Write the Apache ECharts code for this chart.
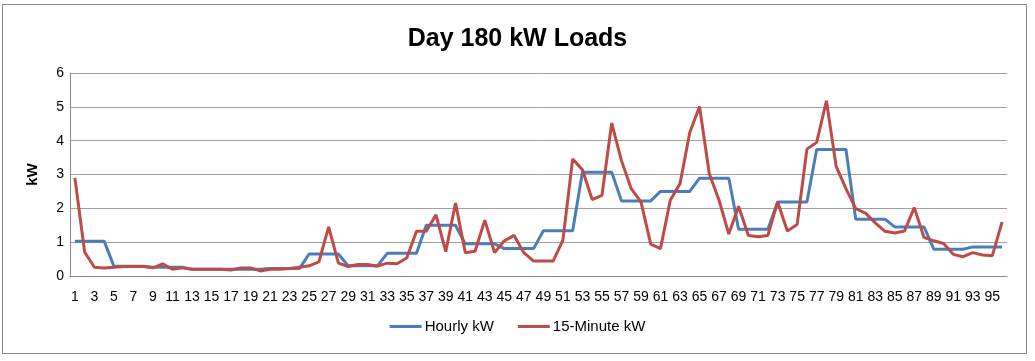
<!DOCTYPE html>
<html><head><meta charset="utf-8">
<script src="https://cdn.jsdelivr.net/npm/echarts@6/dist/echarts.min.js"></script>
<style>
html,body{margin:0;padding:0;background:#fff;}
#frame{position:absolute;left:2px;top:4px;width:1025px;height:350px;border:1px solid #8a8a8a;box-sizing:border-box;}
#c{position:absolute;left:0;top:0;width:1035px;height:361px;}
</style></head>
<body>
<div id="frame"></div>
<div id="c"></div>
<script>
const categories = Array.from({length:96},(_,i)=>String(i+1));
const hourly = [
1.03,1.03,1.03,1.03, 0.29,0.29,0.29,0.29, 0.26,0.26,0.26,0.26, 0.2,0.2,0.2,0.2,
0.2,0.2,0.2,0.2, 0.22,0.22,0.22,0.22, 0.65,0.65,0.65,0.65, 0.3,0.3,0.3,0.3,
0.67,0.67,0.67,0.67, 1.5,1.5,1.5,1.5, 0.95,0.95,0.95,0.95, 0.81,0.81,0.81,0.81,
1.34,1.34,1.34,1.34, 3.07,3.07,3.07,3.07, 2.22,2.22,2.22,2.22, 2.5,2.5,2.5,2.5,
2.89,2.89,2.89,2.89, 1.38,1.38,1.38,1.38, 2.19,2.19,2.19,2.19, 3.74,3.74,3.74,3.74,
1.68,1.68,1.68,1.68, 1.45,1.45,1.45,1.45, 0.79,0.79,0.79,0.79, 0.86,0.86,0.86,0.86
];
const fifteen = [
2.9,0.71,0.26,0.24,0.26,0.28,0.28,0.28,0.24,0.36,0.2,0.24,0.2,0.2,0.2,0.2,
0.18,0.24,0.24,0.15,0.2,0.2,0.22,0.26,0.3,0.42,1.45,0.38,0.28,0.34,0.34,0.29,
0.38,0.36,0.53,1.32,1.32,1.81,0.72,2.16,0.69,0.73,1.65,0.69,1.04,1.2,0.69,0.44,
0.44,0.44,1.06,3.46,3.14,2.26,2.38,4.52,3.41,2.58,2.19,0.94,0.81,2.24,2.73,4.24,
5.01,3.02,2.24,1.24,2.06,1.2,1.16,1.2,2.19,1.33,1.52,3.75,3.95,5.18,3.24,2.58,
1.99,1.86,1.57,1.32,1.27,1.33,2.02,1.14,1.04,0.96,0.64,0.57,0.69,0.62,0.6,1.6
];
const yTicks = [0,1,2,3,4,5,6];

const chart = echarts.init(document.getElementById('c'), null, {renderer:'canvas'});
const font = 'Liberation Sans, Arial, sans-serif';
chart.setOption({
  animation:false,
  title:{text:'Day 180 kW Loads', left:'center', top:22,
    textStyle:{fontFamily:font, fontWeight:'bold', fontSize:25, color:'#000'}},
  grid:{left:70, right:28, top:73, bottom:85},
  legend:{bottom:22, left:'center', itemWidth:32, itemHeight:3, itemGap:24,
    icon:'rect',
    textStyle:{fontFamily:font, fontSize:15, color:'#000', padding:[0,0,0,-2]},
    data:['Hourly kW','15-Minute kW']},
  xAxis:{type:'category', data:categories, boundaryGap:true,
    axisLine:{lineStyle:{color:'#888', width:1}},
    axisTick:{show:false},
    axisLabel:{interval:1, fontFamily:font, fontSize:14, color:'#000', margin:14}},
  yAxis:{type:'value', min:0, max:6, interval:1,
    name:'kW', nameLocation:'middle', nameGap:30, nameRotate:90,
    nameTextStyle:{fontFamily:font, fontWeight:'bold', fontSize:15, color:'#000'},
    axisLine:{show:true, lineStyle:{color:'#888'}},
    axisTick:{show:false},
    axisLabel:{fontFamily:font, fontSize:14, color:'#000', margin:6,
      formatter:v=>yTicks.includes(v)?String(v):''},
    splitLine:{lineStyle:{color:'#a0a0a0', width:1}}},
  series:[
    {name:'Hourly kW', type:'line', data:hourly, symbol:'none',
      lineStyle:{color:'#4A7EBB', width:3}, itemStyle:{color:'#4A7EBB'}},
    {name:'15-Minute kW', type:'line', data:fifteen, symbol:'none',
      lineStyle:{color:'#BE4B48', width:3}, itemStyle:{color:'#BE4B48'}}
  ]
});
</script>
</body></html>
